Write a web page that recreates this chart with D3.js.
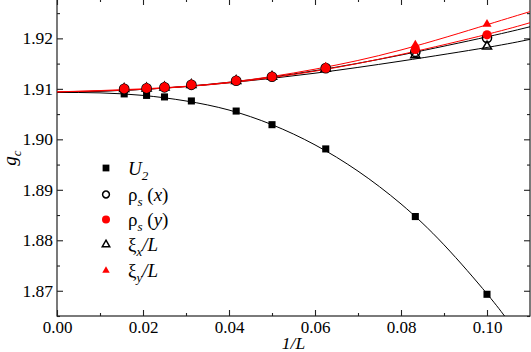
<!DOCTYPE html>
<html><head><meta charset="utf-8">
<script src="https://cdn.jsdelivr.net/npm/d3@7"></script>
<style>html,body{margin:0;padding:0;background:#fff;} svg{display:block;} svg text{font-family:"Liberation Serif","Tinos","Times New Roman","Nimbus Roman","FreeSerif","Noto Serif","DejaVu Serif",Times,serif;}</style>
</head><body>
<svg id="chart" width="531" height="352"></svg>
<script>
// ---- data ----
const invL = [0.015625, 0.020833, 0.025, 0.03125, 0.041667, 0.05, 0.0625, 0.083333, 0.1];
const U2   = [1.9090, 1.9087, 1.9084, 1.9076, 1.9056, 1.9029, 1.8981, 1.8847, 1.8693];
const rhoX = [1.9100, 1.9101, 1.9103, 1.9108, 1.9116, 1.9124, 1.9141, 1.9173, 1.9201];
const rhoY = [1.9100, 1.9101, 1.9103, 1.9108, 1.9116, 1.9124, 1.9141, 1.9178, 1.9207];
const xiX  = [1.9100, 1.9101, 1.9103, 1.9108, 1.9116, 1.9124, 1.9140, 1.9167, 1.9184];
const xiY  = [1.9101, 1.9102, 1.9104, 1.9109, 1.9117, 1.9125, 1.9143, 1.9187, 1.9228];

// fitted curves, points
const fitU2X = [0, 0.01, 0.02, 0.03, 0.04, 0.05, 0.06, 0.07, 0.08, 0.09, 0.10, 0.1045];
const fitU2Y = [1.9093, 1.9092, 1.9087, 1.9076, 1.9058, 1.9029, 1.8989, 1.8937, 1.8872, 1.8791, 1.8694, 1.8645];
const fitX   = [0, 0.02, 0.04, 0.06, 0.08, 0.10, 0.11];
const fitRhoX = [1.9093, 1.9099, 1.9113, 1.9136, 1.9167, 1.9203, 1.9223];
const fitRhoY = [1.9094, 1.9099, 1.9112, 1.9135, 1.9168, 1.9208, 1.9231];
const fitXiX  = [1.9093, 1.9099, 1.9112, 1.9131, 1.9155, 1.9182, 1.9198];
const fitXiY  = [1.9094, 1.9100, 1.9113, 1.9139, 1.9177, 1.9227, 1.9253];

const xMajor = [0, 0.02, 0.04, 0.06, 0.08, 0.10];
const xMinor = [0.01, 0.03, 0.05, 0.07, 0.09];
const yMajor = [1.87, 1.88, 1.89, 1.90, 1.91, 1.92];
const yMinor = [1.865, 1.875, 1.885, 1.895, 1.905, 1.915, 1.925];

// ---- drawing ----
const svg = d3.select("#chart");
const x = d3.scaleLinear().domain([0, 0.11]).range([57, 530]);
const y = d3.scaleLinear().domain([1.865, 1.9276]).range([316, 0]);

// frame
svg.append("rect")
  .attr("x", x(0)).attr("y", -2)
  .attr("width", x(0.11) - x(0)).attr("height", y(1.865) + 2)
  .attr("fill", "none").attr("stroke", "#222").attr("stroke-width", 1.2);

function styleAxis(g, fs) {
  g.attr("font-family", null).attr("font-size", fs);
  g.select(".domain").remove();
  g.selectAll(".tick line").attr("stroke", "#222").attr("stroke-width", 1.1);
  g.selectAll(".tick text").attr("fill", "#000");
}

// bottom
svg.append("g").attr("transform", `translate(0,${y(1.865)})`)
  .call(d3.axisBottom(x).tickValues(xMajor).tickSize(-6).tickSizeOuter(0).tickPadding(5).tickFormat(d3.format(".2f")))
  .call(g => styleAxis(g, 17));
svg.append("g").attr("transform", `translate(0,${y(1.865)})`)
  .call(d3.axisBottom(x).tickValues(xMinor).tickSize(-3).tickSizeOuter(0).tickFormat(""))
  .call(g => styleAxis(g, 17));
// top
svg.append("g").attr("transform", `translate(0,-1)`)
  .call(d3.axisTop(x).tickValues(xMajor).tickSize(-6).tickSizeOuter(0).tickFormat(""))
  .call(g => styleAxis(g, 17));
svg.append("g").attr("transform", `translate(0,-1)`)
  .call(d3.axisTop(x).tickValues(xMinor).tickSize(-3).tickSizeOuter(0).tickFormat(""))
  .call(g => styleAxis(g, 17));
// left
svg.append("g").attr("transform", `translate(${x(0)},0)`)
  .call(d3.axisLeft(y).tickValues(yMajor).tickSize(-6).tickSizeOuter(0).tickPadding(4).tickFormat(d3.format(".2f")))
  .call(g => styleAxis(g, 17.5));
svg.append("g").attr("transform", `translate(${x(0)},0)`)
  .call(d3.axisLeft(y).tickValues(yMinor).tickSize(-3).tickSizeOuter(0).tickFormat(""))
  .call(g => styleAxis(g, 17.5));
// right
svg.append("g").attr("transform", `translate(${x(0.11)},0)`)
  .call(d3.axisRight(y).tickValues(yMajor).tickSize(-6).tickSizeOuter(0).tickFormat(""))
  .call(g => styleAxis(g, 17.5));
svg.append("g").attr("transform", `translate(${x(0.11)},0)`)
  .call(d3.axisRight(y).tickValues(yMinor).tickSize(-3).tickSizeOuter(0).tickFormat(""))
  .call(g => styleAxis(g, 17.5));

// axis titles
svg.append("text").attr("x", (x(0) + x(0.11)) / 2).attr("y", 349)
  .attr("text-anchor", "middle").attr("font-size", 17.5)
  .attr("font-style", "italic").text("1/L");
const yl = svg.append("text").attr("transform", "translate(16,158) rotate(-90)")
  .attr("text-anchor", "middle").attr("font-size", 19)
  .attr("font-style", "italic");
yl.append("tspan").text("g");
yl.append("tspan").attr("font-size", 13).attr("dy", 5).text("c");

// clip
svg.append("clipPath").attr("id", "clip").append("rect")
  .attr("x", x(0)).attr("y", 0).attr("width", x(0.11) - x(0)).attr("height", y(1.865));

const plot = svg.append("g").attr("clip-path", "url(#clip)");
const line = d3.line().curve(d3.curveNatural).x(d => x(d[0])).y(d => y(d[1]));
const zip = (a, b) => a.map((v, i) => [v, b[i]]);

const curves = [
  {xs: fitU2X, ys: fitU2Y, c: "#000"},
  {xs: fitX, ys: fitXiX, c: "#000"},
  {xs: fitX, ys: fitRhoX, c: "#000"},
  {xs: fitX, ys: fitRhoY, c: "#ff0000"},
  {xs: fitX, ys: fitXiY, c: "#ff0000"}
];
curves.forEach(cv => {
  plot.append("path").attr("d", line(zip(cv.xs, cv.ys)))
    .attr("fill", "none").attr("stroke", cv.c).attr("stroke-width", 1);
});

const sq = d3.symbol().type(d3.symbolSquare).size(50);
const circD = d3.symbol().type(d3.symbolCircle).size(Math.PI * 4.6 * 4.6);
const triD = d3.symbol().type(d3.symbolTriangle).size(36);

function markers(vals, sym, fill, stroke, sw) {
  plot.append("g").selectAll("path").data(zip(invL, vals)).join("path")
    .attr("transform", d => `translate(${x(d[0])},${y(d[1])})`)
    .attr("d", sym).attr("fill", fill).attr("stroke", stroke).attr("stroke-width", sw);
}
markers(U2, sq, "#000", "none", 0);
markers(rhoX, circD, "none", "#000", 1.5);
markers(xiX, triD, "none", "#000", 1.5);
markers(rhoY, circD, "#ff0000", "none", 0);
markers(xiY, triD, "#ff0000", "none", 0);

// legend
const legY = [168, 194.5, 219.5, 244.5, 270.5];
const lg = svg.append("g");
const lsq = d3.symbol().type(d3.symbolSquare).size(46);
const lcirc = d3.symbol().type(d3.symbolCircle).size(Math.PI * 3.4 * 3.4);
const lcircR = d3.symbol().type(d3.symbolCircle).size(Math.PI * 4 * 4);
const ltri = d3.symbol().type(d3.symbolTriangle).size(24);
const legSyms = [
  {d: lsq, f: "#000", s: "none", w: 0},
  {d: lcirc, f: "none", s: "#000", w: 1.5},
  {d: lcircR, f: "#ff0000", s: "none", w: 0},
  {d: ltri, f: "none", s: "#000", w: 1.5},
  {d: ltri, f: "#ff0000", s: "none", w: 0}
];
legSyms.forEach((m, i) => {
  lg.append("path").attr("transform", `translate(106,${legY[i]})`)
    .attr("d", m.d).attr("fill", m.f).attr("stroke", m.s).attr("stroke-width", m.w);
});
function legText(i) {
  return lg.append("text").attr("x", 128).attr("y", legY[i] + 6.5)
    .attr("font-size", 19).attr("fill", "#000");
}
let t;
t = legText(0);
t.append("tspan").attr("font-style", "italic").text("U");
t.append("tspan").attr("font-size", 13).attr("dy", 5).attr("font-style", "italic").text("2");

t = legText(1);
t.append("tspan").text("ρ");
t.append("tspan").attr("font-size", 13).attr("dy", 5).attr("font-style", "italic").text("s");
t.append("tspan").attr("dy", -5).text(" (");
t.append("tspan").attr("font-style", "italic").text("x");
t.append("tspan").text(")");

t = legText(2);
t.append("tspan").text("ρ");
t.append("tspan").attr("font-size", 13).attr("dy", 5).attr("font-style", "italic").text("s");
t.append("tspan").attr("dy", -5).text(" (");
t.append("tspan").attr("font-style", "italic").text("y");
t.append("tspan").text(")");

t = legText(3);
t.append("tspan").text("ξ");
t.append("tspan").attr("font-size", 13).attr("dy", 5).attr("font-style", "italic").text("x");
t.append("tspan").attr("dy", -5).attr("font-style", "italic").text("/L");

t = legText(4);
t.append("tspan").text("ξ");
t.append("tspan").attr("font-size", 13).attr("dy", 5).attr("font-style", "italic").text("y");
t.append("tspan").attr("dy", -5).attr("font-style", "italic").text("/L");
</script>
</body></html>
